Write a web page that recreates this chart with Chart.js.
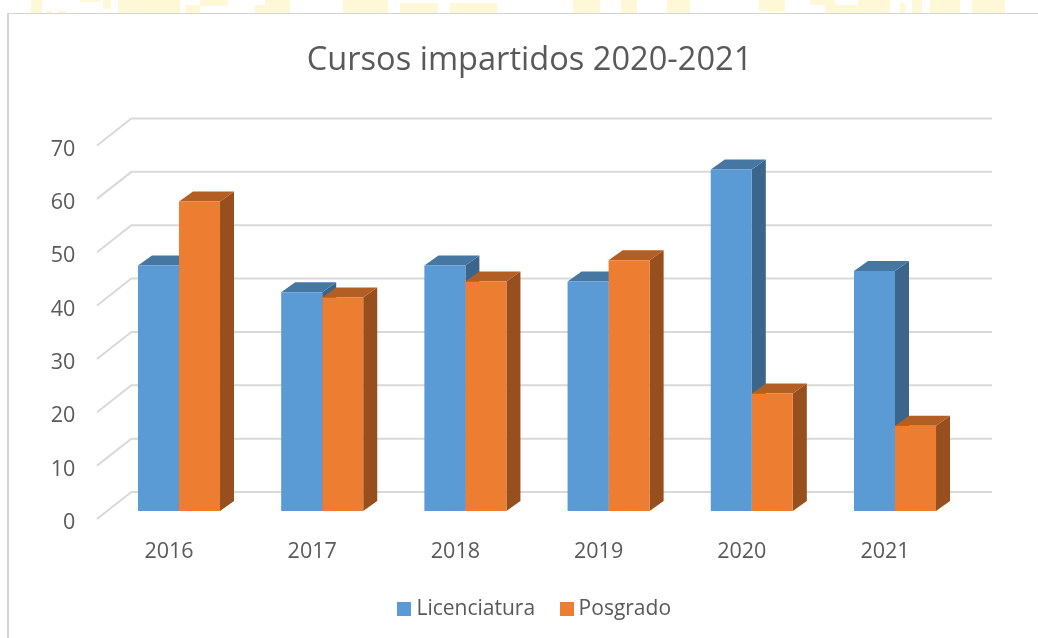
<!DOCTYPE html>
<html>
<head>
<meta charset="utf-8">
<title>Cursos impartidos 2020-2021</title>
<style>
  html, body { margin: 0; padding: 0; background: #fff; }
  #wrap { position: relative; width: 1038px; height: 638px; overflow: hidden; }
  #frame { position: absolute; left: 7px; top: 13px; right: -4px; bottom: -4px; border: 2px solid #d4d4d4; border-top-width: 1px; }
  .mark { position: absolute; background: #fff8d6; }
  canvas { position: absolute; left: 0; top: 0; }
</style>
<script src="https://cdn.jsdelivr.net/npm/chart.js@4/dist/chart.umd.min.js"></script>
</head>
<body>
<div id="wrap">
  <div id="frame"></div>
  <canvas id="chart" width="1038" height="638"></canvas>
</div>
<script>
// --- Dados ---
const categories = ['2016', '2017', '2018', '2019', '2020', '2021'];
const licenciatura = [46, 41, 46, 43, 64, 45];
const posgrado = [58, 40, 43, 47, 22, 16];

// --- Cores ---
const blue = { front: '#5b9bd5', top: '#4677a3', side: '#3b658a' };
const orange = { front: '#ed7d31', top: '#b35e23', side: '#964f1d' };
const textColor = '#595959';
const gridColor = '#d9d9d9';

// Faixa amarela que aparece acima do quadro (x, y, largura, altura)
const topMarks = [
  [31, 0, 11, 13], [46, 11, 6, 2], [58, 11, 8, 2], [80, 0, 20, 2], [103, 0, 8, 9],
  [118, 0, 62, 13], [185, 5, 15, 8], [200, 0, 28, 6], [255, 5, 35, 8], [265, 0, 25, 5],
  [343, 0, 45, 13], [400, 3, 38, 10], [450, 3, 47, 10], [573, 0, 27, 13], [621, 0, 16, 13],
  [667, 0, 23, 13], [675, 0, 8, 13], [759, 0, 26, 11], [810, 0, 25, 5], [825, 5, 65, 8],
  [858, 0, 32, 6], [900, 3, 5, 10], [912, 0, 10, 13], [930, 0, 30, 13], [972, 0, 33, 13]
];
topMarks.forEach(m => {
  const d = document.createElement('div');
  d.className = 'mark';
  d.style.left = m[0] + 'px';
  d.style.top = m[1] + 'px';
  d.style.width = m[2] + 'px';
  d.style.height = m[3] + 'px';
  document.getElementById('wrap').appendChild(d);
});

// Profundidade das barras e das paredes (efeito 3D do Excel)
const barDepthX = 14, barDepthY = 10;

function poly(ctx, color, pts) {
  ctx.fillStyle = color;
  ctx.beginPath();
  pts.forEach((p, i) => i ? ctx.lineTo(p[0], p[1]) : ctx.moveTo(p[0], p[1]));
  ctx.closePath();
  ctx.fill();
}

// Quadradinho da legenda (o padrão do Chart.js deixa muito espaço até o texto)
function legendSwatch(color) {
  const c = document.createElement('canvas');
  c.width = 14;
  c.height = 14;
  const g = c.getContext('2d');
  g.fillStyle = color;
  g.fillRect(0, 0, 14, 14);
  return c;
}
const swatches = [legendSwatch(blue.front), legendSwatch(orange.front)];

const fake3d = {
  id: 'fake3d',
  afterLayout(chart) {
    // Título e legenda não ficam centrados no gráfico
    chart.titleBlock.left += 42.5;
    chart.titleBlock.right += 42.5;
    chart.legend.left += 50;
    chart.legend.right += 50;
  },
  beforeDatasetsDraw(chart) {
    const ctx = chart.ctx;
    const yScale = chart.scales.y;
    const area = chart.chartArea;
    ctx.save();

    // linhas de grade na parede e no chão
    yScale.ticks.forEach(t => {
      const y = yScale.getPixelForValue(t.value);
      ctx.strokeStyle = gridColor;
      ctx.lineWidth = 2;
      ctx.beginPath();
      ctx.moveTo(area.left - 10.4, y + 8);
      ctx.lineTo(area.left + 24, y - 19);
      ctx.lineTo(area.right + 25.4, y - 19);
      ctx.stroke();
    });

    // faces superior e lateral das barras
    const palettes = [blue, orange];
    chart.data.datasets.forEach((ds, i) => {
      chart.getDatasetMeta(i).data.forEach(bar => {
        const l = bar.x - bar.width / 2, r = bar.x + bar.width / 2;
        poly(ctx, palettes[i].side, [[r, bar.y], [r + barDepthX, bar.y - barDepthY],
          [r + barDepthX, bar.base - barDepthY], [r, bar.base]]);
        poly(ctx, palettes[i].top, [[l, bar.y], [l + barDepthX, bar.y - barDepthY],
          [r + barDepthX, bar.y - barDepthY], [r, bar.y]]);
      });
    });
    ctx.restore();
  }
};

const fontFamily = '"Open Sans", sans-serif';

new Chart(document.getElementById('chart'), {
  type: 'bar',
  data: {
    labels: categories,
    datasets: [
      { label: 'Licenciatura', data: licenciatura, backgroundColor: blue.front },
      { label: 'Posgrado', data: posgrado, backgroundColor: orange.front }
    ]
  },
  options: {
    responsive: false,
    animation: false,
    categoryPercentage: 0.573,
    barPercentage: 1,
    layout: { padding: { left: 7.4, right: 71.4, top: 0, bottom: 8.5 } },
    plugins: {
      title: {
        display: true,
        text: 'Cursos impartidos 2020-2021',
        color: textColor,
        font: { family: fontFamily, size: 32.6, weight: 'normal', lineHeight: 1.2 },
        padding: { top: 41, bottom: 57.4 }
      },
      legend: {
        position: 'bottom',
        labels: {
          color: textColor,
          font: { family: fontFamily, size: 21 },
          usePointStyle: true,
          pointStyleWidth: 3,
          boxHeight: 14,
          padding: 30,
          generateLabels(chart) {
            return Chart.defaults.plugins.legend.labels.generateLabels(chart)
              .map((item, i) => ({ ...item, pointStyle: swatches[i] }));
          }
        }
      },
      tooltip: { enabled: false }
    },
    scales: {
      x: {
        grid: { display: false },
        border: { display: false },
        afterFit(scale) { scale.height = 57.5; },
        ticks: {
          color: textColor,
          font: { family: fontFamily, size: 21.5 },
          padding: 19.5,
          labelOffset: -10,
          maxRotation: 0
        }
      },
      y: {
        min: 0,
        max: 70,
        grid: { display: false },
        border: { display: false },
        afterFit(scale) { scale.width = 100; },
        ticks: {
          stepSize: 10,
          color: textColor,
          font: { family: fontFamily, size: 21.5 },
          padding: 24,
          labelOffset: 12
        }
      }
    }
  },
  plugins: [fake3d]
});
</script>
</body>
</html>
